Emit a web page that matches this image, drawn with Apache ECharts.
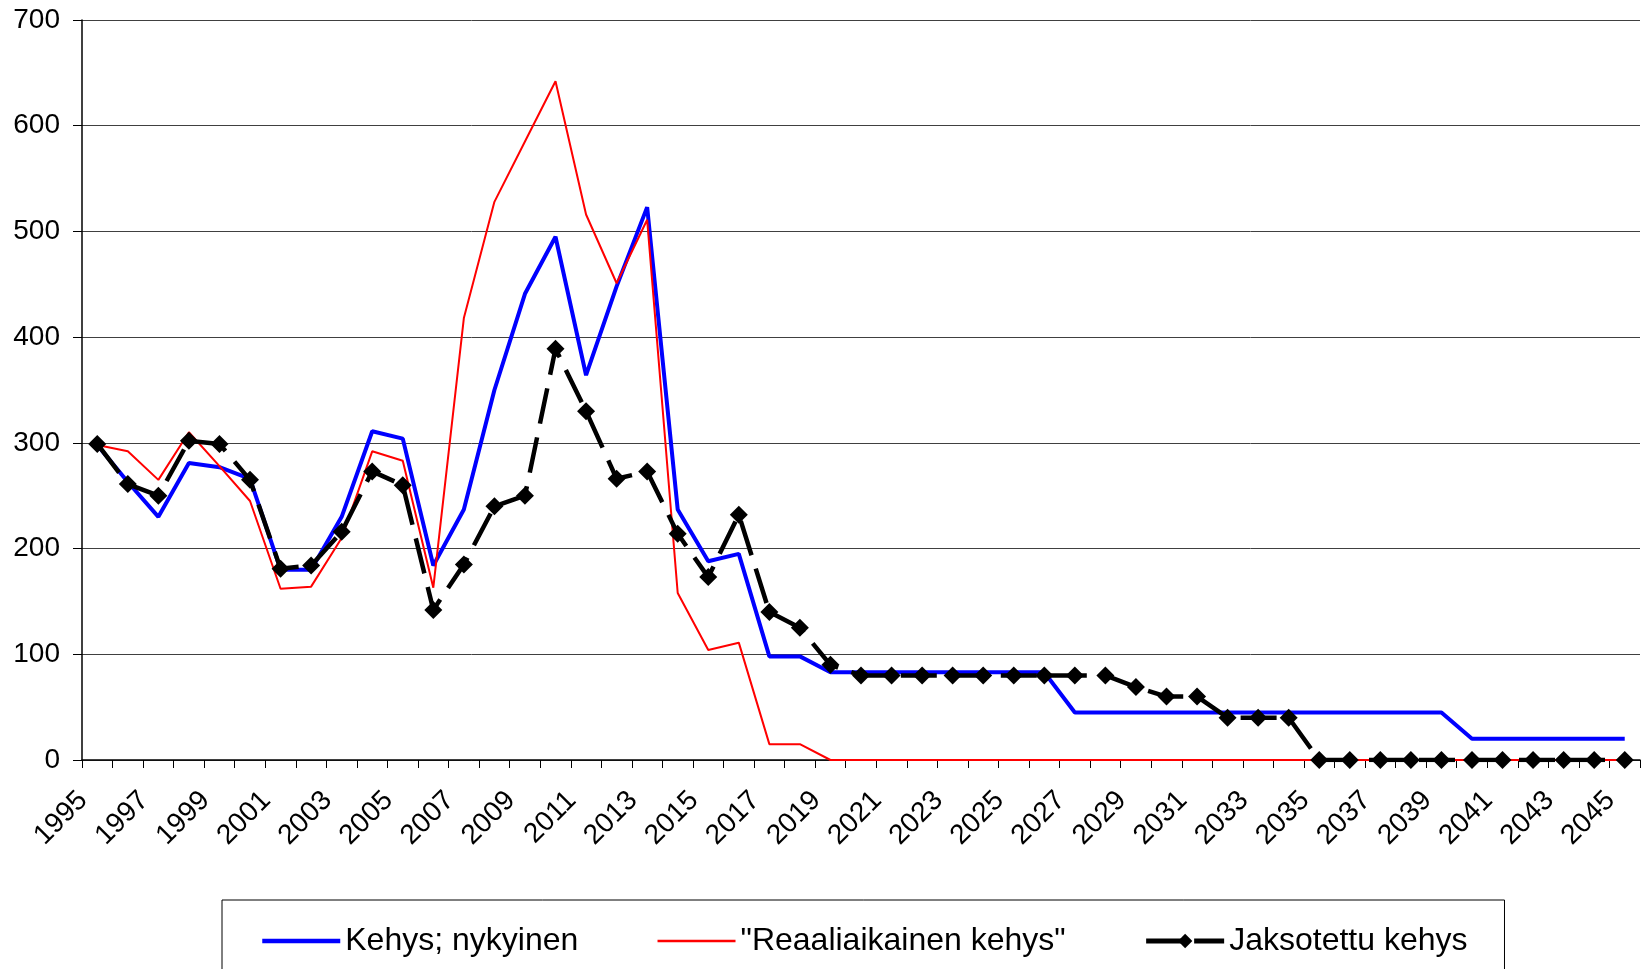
<!DOCTYPE html>
<html><head><meta charset="utf-8">
<script src="https://cdn.jsdelivr.net/npm/echarts@6/dist/echarts.min.js"></script>
<style>html,body{margin:0;padding:0;background:#fff}#c{width:1645px;height:969px}</style>
</head><body><div id="c"></div>
<script>
const categories = ['1995','1996','1997','1998','1999','2000','2001','2002','2003','2004','2005','2006','2007','2008','2009','2010','2011','2012','2013','2014','2015','2016','2017','2018','2019','2020','2021','2022','2023','2024','2025','2026','2027','2028','2029','2030','2031','2032','2033','2034','2035','2036','2037','2038','2039','2040','2041','2042','2043','2044','2045'];
const kehysNykyinen = [298,263,230,281,277,266,180,180,230,311,304,184,237,350,441,495,364,448,523,237,188,195,98,98,83,83,83,83,83,83,83,83,45,45,45,45,45,45,45,45,45,45,45,45,45,20,20,20,20,20,20];
const reaaliaikainen = [298,292,265,310,278,245,162,164,210,292,283,163,418,528,585,642,516,451,511,158,104,111,15,15,0,0,0,0,0,0,0,0,0,0,0,0,0,0,0,0,0,0,0,0,0,0,0,0,0,0,0];
const jaksotettu = [299,261,250,302,299,265,181,184,216,273,260,142,185,240,250,389,330,266,273,214,173,232,140,125,90,80,80,80,80,80,80,80,80,80,69,60,60,40,40,40,0,0,0,0,0,0,0,0,0,0,0];
const yTicks = {min: 0, max: 700, interval: 100};
const names = ['Kehys; nykyinen', '"Reaaliaikainen kehys"', 'Jaksotettu kehys'];

const FONT = 'Liberation Sans, Arial, sans-serif';
const chart = echarts.init(document.getElementById('c'));
chart.setOption({
  animation: false,
  backgroundColor: '#fff',
  grid: {left: 82, right: 5, top: 20, bottom: 209},
  legend: {
    data: [
      {name: names[0], itemStyle: {opacity: 0}, lineStyle: {width: 4.5}},
      {name: names[1], itemStyle: {opacity: 0}, lineStyle: {width: 2.5}},
      {name: names[2], lineStyle: {width: 5, type: [42, 6]}}
    ],
    left: 222, top: 900,
    itemWidth: 78, itemHeight: 18, itemGap: 78,
    padding: [25, 37, 60, 38],
    borderColor: '#000', borderWidth: 1,
    textStyle: {fontSize: 32, color: '#000', fontFamily: FONT}
  },
  xAxis: {
    type: 'category', data: categories, boundaryGap: true,
    axisLine: {lineStyle: {color: '#000', width: 1.5}},
    axisTick: {show: true, interval: 0, length: 8, lineStyle: {color: '#000', width: 1}},
    axisLabel: {interval: 1, rotate: 45, fontSize: 28, color: '#000', fontFamily: FONT, margin: 22, padding: [0, 20, 0, 0]},
    splitLine: {show: false}
  },
  yAxis: {
    type: 'value', min: yTicks.min, max: yTicks.max, interval: yTicks.interval,
    axisLine: {show: true, lineStyle: {color: '#000', width: 1.5}},
    axisTick: {show: true, length: 9, lineStyle: {color: '#000'}},
    axisLabel: {fontSize: 28, color: '#000', fontFamily: FONT, margin: 22},
    splitLine: {show: true, lineStyle: {color: '#404040', width: 1}}
  },
  series: [
    {name: names[0], type: 'line', data: kehysNykyinen, symbol: 'none',
     lineStyle: {color: '#0000FF', width: 4}, itemStyle: {color: '#0000FF'}},
    {name: names[1], type: 'line', data: reaaliaikainen, symbol: 'none',
     lineStyle: {color: '#FF0000', width: 2}, itemStyle: {color: '#FF0000'}},
    {name: names[2], type: 'line', data: jaksotettu, symbol: 'diamond', symbolSize: 18,
     lineStyle: {color: '#000', width: 4.5, type: [36, 14]}, itemStyle: {color: '#000'}}
  ]
});
</script></body></html>
